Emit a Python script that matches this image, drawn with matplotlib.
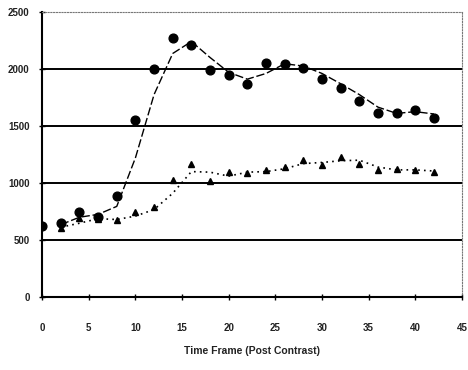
import numpy as np
from matplotlib import pyplot as plt

plt.rcParams['font.family'] = ['Liberation Sans', 'DejaVu Sans']

# time frames (post contrast)
frames = [0, 2, 4, 6, 8, 10, 12, 14, 16, 18, 20, 22, 24, 26, 28, 30, 32, 34, 36, 38, 40, 42]

# circle series
circles = [620, 650, 750, 700, 890, 1550, 2000, 2270, 2210, 1990, 1950, 1870,
           2050, 2040, 2010, 1910, 1830, 1720, 1610, 1610, 1640, 1570]

# triangle series
triangles = [620, 605, 690, 685, 675, 745, 790, 1030, 1170, 1020, 1100, 1090,
             1110, 1140, 1200, 1160, 1230, 1170, 1110, 1120, 1110, 1100]

xticks = [0, 5, 10, 15, 20, 25, 30, 35, 40, 45]
yticks = [0, 500, 1000, 1500, 2000, 2500]


def moving_avg(v, n=2):
    v = np.asarray(v, dtype=float)
    return np.convolve(v, np.ones(n) / n, mode='valid')


fig = plt.figure(figsize=(4.68, 3.70), dpi=100)
ax = fig.add_axes([0.09, 0.197, 0.897, 0.771])

for y in yticks[1:-1]:
    ax.axhline(y, color='black', lw=1.4, zorder=1)

ax.plot(frames, circles, 'o', color='black', ms=6.3, zorder=3)
ax.plot(frames, triangles, '^', color='black', ms=5, zorder=3)

# 2-period moving average trend lines
ax.plot(frames[1:], moving_avg(circles), color='black', lw=1.0, ls=(0, (6, 2)), zorder=2)
ax.plot(frames[1:], moving_avg(triangles), color='black', lw=1.2, ls=(0, (1, 2.5)), zorder=2)

ax.set_xlim(0, 45)
ax.set_ylim(0, 2500)
ax.set_xticks(xticks)
ax.set_yticks(yticks)

ax.spines['left'].set_linewidth(1.5)
ax.spines['bottom'].set_linewidth(1.5)
for side in ['top', 'right']:
    ax.spines[side].set_color('#777777')
    ax.spines[side].set_linestyle((0, (1, 1.5)))
    ax.spines[side].set_linewidth(0.8)

ax.tick_params(axis='x', direction='inout', length=4, width=1, pad=17, labelsize=7)
ax.tick_params(axis='y', direction='inout', length=4, width=1, pad=7, labelsize=7)
for lbl in ax.get_xticklabels() + ax.get_yticklabels():
    lbl.set_color('#222222')
    lbl.set_fontweight('bold')

ax.set_xlabel('Time Frame (Post Contrast)', fontsize=7.5, fontweight='bold', labelpad=9, color='#222222')

fig.savefig('out.png', dpi=100)
